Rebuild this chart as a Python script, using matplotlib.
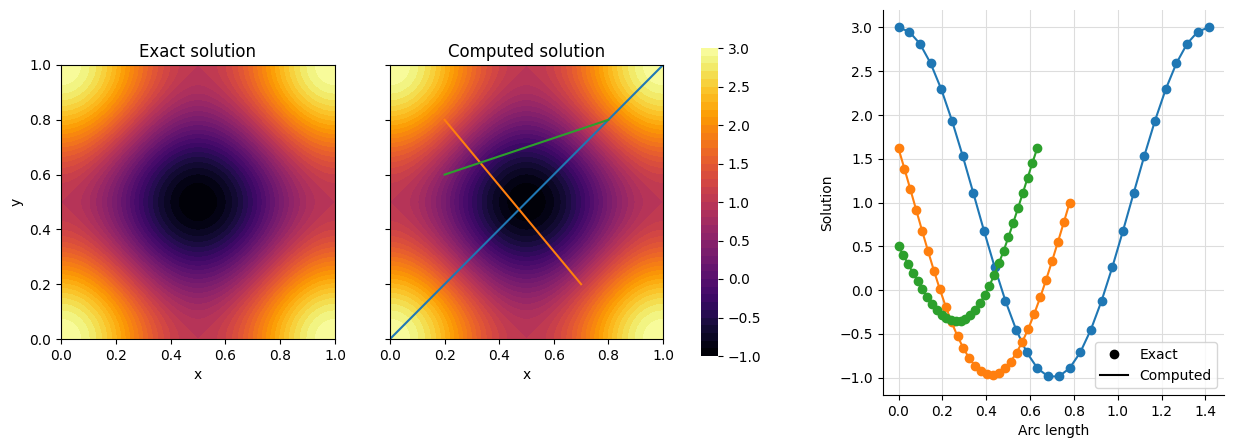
import numpy as np
import matplotlib
matplotlib.use("Agg")
import matplotlib.pyplot as plt
from matplotlib.lines import Line2D

# ---- data ----
# line endpoints (x0, y0) -> (x1, y1) drawn on the computed solution
line_starts = [(0.0, 0.0), (0.2, 0.8), (0.2, 0.6)]
line_ends = [(1.0, 1.0), (0.7, 0.2), (0.8, 0.8)]
line_colors = ["C0", "C1", "C2"]

blue_vals = [3.000, 2.953, 2.815, 2.592, 2.295, 1.937, 1.535, 1.108, 0.676, 0.260,
             -0.123, -0.452, -0.714, -0.895, -0.988, -0.988, -0.895, -0.714, -0.452, -0.123,
             0.260, 0.676, 1.108, 1.535, 1.937, 2.295, 2.592, 2.815, 2.953, 3.000]
orange_vals = [1.618, 1.387, 1.152, 0.914, 0.677, 0.445, 0.221, 0.009, -0.189, -0.369,
               -0.529, -0.667, -0.782, -0.870, -0.931, -0.964, -0.970, -0.947, -0.896, -0.819,
               -0.716, -0.589, -0.440, -0.271, -0.085, 0.116, 0.328, 0.548, 0.773, 1.000]
green_vals = [0.500, 0.400, 0.299, 0.198, 0.100, 0.006, -0.080, -0.158, -0.225, -0.281,
              -0.321, -0.347, -0.358, -0.351, -0.328, -0.286, -0.228, -0.152, -0.060, 0.047,
              0.169, 0.304, 0.450, 0.605, 0.768, 0.936, 1.107, 1.280, 1.451, 1.618]
series_vals = [blue_vals, orange_vals, green_vals]

cbar_ticks = [-1.0, -0.5, 0.0, 0.5, 1.0, 1.5, 2.0, 2.5, 3.0]
axis_ticks = [0.0, 0.2, 0.4, 0.6, 0.8, 1.0]
arc_ticks = [0.0, 0.2, 0.4, 0.6, 0.8, 1.0, 1.2, 1.4]
sol_ticks = [-1.0, -0.5, 0.0, 0.5, 1.0, 1.5, 2.0, 2.5, 3.0]

# solution field on the unit square
n = 301
gx, gy = np.meshgrid(np.linspace(0, 1, n), np.linspace(0, 1, n))
field = 1 + np.cos(2 * np.pi * gx) + np.cos(2 * np.pi * gy)
levels = np.linspace(-1, 3, 41)

# ---- figure ----
W, H = 1233, 448
fig = plt.figure(figsize=(W / 100, H / 100), dpi=100)

def ax_px(l, t, r, b):
    return fig.add_axes([l / W, 1 - b / H, (r - l) / W, (b - t) / H])

ax1 = ax_px(61, 65, 335, 339)
ax2 = ax_px(390, 65, 663, 339)
cax = ax_px(701, 48, 718, 356)
ax3 = ax_px(883, 10, 1224, 395)

cs1 = ax1.contourf(gx, gy, field, levels=levels, cmap="inferno")
ax1.set_title("Exact solution")
ax1.set_xlabel("x")
ax1.set_ylabel("y")
ax1.set_xticks(axis_ticks)
ax1.set_yticks(axis_ticks)
ax1.set_xlim(0, 1)
ax1.set_ylim(0, 1)

cs2 = ax2.contourf(gx, gy, field, levels=levels, cmap="inferno")
ax2.set_title("Computed solution")
ax2.set_xlabel("x")
ax2.set_xticks(axis_ticks)
ax2.set_yticks(axis_ticks)
ax2.set_yticklabels([])
for (x0, y0), (x1, y1), c in zip(line_starts, line_ends, line_colors):
    ax2.plot([x0, x1], [y0, y1], color=c, lw=1.5)
ax2.set_xlim(0, 1)
ax2.set_ylim(0, 1)

cb = fig.colorbar(cs2, cax=cax)
cb.set_ticks(cbar_ticks)
cb.outline.set_visible(False)

for (x0, y0), (x1, y1), c, vals in zip(line_starts, line_ends, line_colors, series_vals):
    L = np.hypot(x1 - x0, y1 - y0)
    s = np.linspace(0, L, len(vals))
    ax3.plot(s, vals, "o", color=c, ms=6)
    ax3.plot(s, vals, "-", color=c, lw=1.5)

ax3.set_ylim(-1.2, 3.2)
ax3.set_xticks(arc_ticks)
ax3.set_yticks(sol_ticks)
ax3.set_xlabel("Arc length")
ax3.set_ylabel("Solution")
ax3.grid(True, color="#dddddd", lw=0.8)
ax3.set_axisbelow(True)
ax3.spines["top"].set_visible(False)
ax3.spines["right"].set_visible(False)
handles = [Line2D([], [], marker="o", ls="none", color="k", ms=6),
           Line2D([], [], ls="-", color="k", lw=1.5)]
ax3.legend(handles, ["Exact", "Computed"], loc="lower right")

fig.savefig("out.png", dpi=100)
